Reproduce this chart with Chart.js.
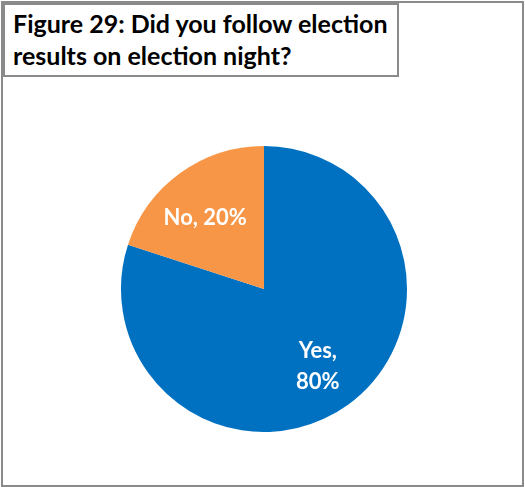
<!DOCTYPE html>
<html>
<head>
<meta charset="utf-8">
<script src="https://cdn.jsdelivr.net/npm/chart.js@4"></script>
<style>
  html, body { margin: 0; padding: 0; background: #fff; }
  body { width: 525px; height: 487px; position: relative; overflow: hidden; }
  #frame {
    position: absolute; left: 1px; top: 1px; width: 519px; height: 482px;
    border: 2px solid #8a8a8a;
  }
  #title {
    position: absolute; left: 3px; top: 3px; width: 384px; height: 68px;
    border: 2px solid #8a8a8a; background: #fff;
    font-family: Lato, "Noto Sans", sans-serif; font-weight: bold;
    font-size: 25px; line-height: 32px; color: #000;
    padding: 2px 0 0 8px; z-index: 2;
  }
  canvas { position: absolute; left: 0; top: 0; }
</style>
</head>
<body>
<div id="frame"></div>
<div id="title">Figure 29: Did you follow election<br>results on election night?</div>
<canvas id="pie" width="525" height="487"></canvas>
<script>
const categories = ["Yes", "No"];
const shares = [80, 20];
const sliceColors = ["#0070C0", "#F79646"];

// writes "Category, NN%" inside each slice, wrapping where the slice is narrow
const sliceLabels = {
  id: "sliceLabels",
  afterDatasetsDraw(chart) {
    const ctx = chart.ctx;
    const meta = chart.getDatasetMeta(0);
    ctx.save();
    ctx.fillStyle = "#fff";
    ctx.font = "bold 22px Lato, 'Noto Sans', sans-serif";
    ctx.textAlign = "center";
    ctx.textBaseline = "middle";
    meta.data.forEach((arc, i) => {
      const p = arc.getProps(["x", "y", "startAngle", "endAngle", "outerRadius"], true);
      const mid = (p.startAngle + p.endAngle) / 2;
      const r = p.outerRadius * 0.64;
      const cx = p.x + Math.cos(mid) * r;
      const cy = p.y + Math.sin(mid) * r;
      const lines = i === 0
        ? [categories[i] + ",", shares[i] + "%"]
        : [categories[i] + ", " + shares[i] + "%"];
      const lh = 31;
      lines.forEach((t, k) => {
        ctx.fillText(t, cx - 5 * (i === 1), cy + 3 + (k - (lines.length - 1) / 2) * lh);
      });
    });
    ctx.restore();
  }
};

new Chart(document.getElementById("pie"), {
  type: "pie",
  data: {
    labels: categories,
    datasets: [{
      data: shares,
      backgroundColor: sliceColors,
      borderWidth: 0
    }]
  },
  options: {
    responsive: false,
    animation: false,
    layout: { padding: { left: 121, right: 118, top: 146, bottom: 55 } },
    plugins: {
      legend: { display: false },
      tooltip: { enabled: false }
    }
  },
  plugins: [sliceLabels]
});
</script>
</body>
</html>
